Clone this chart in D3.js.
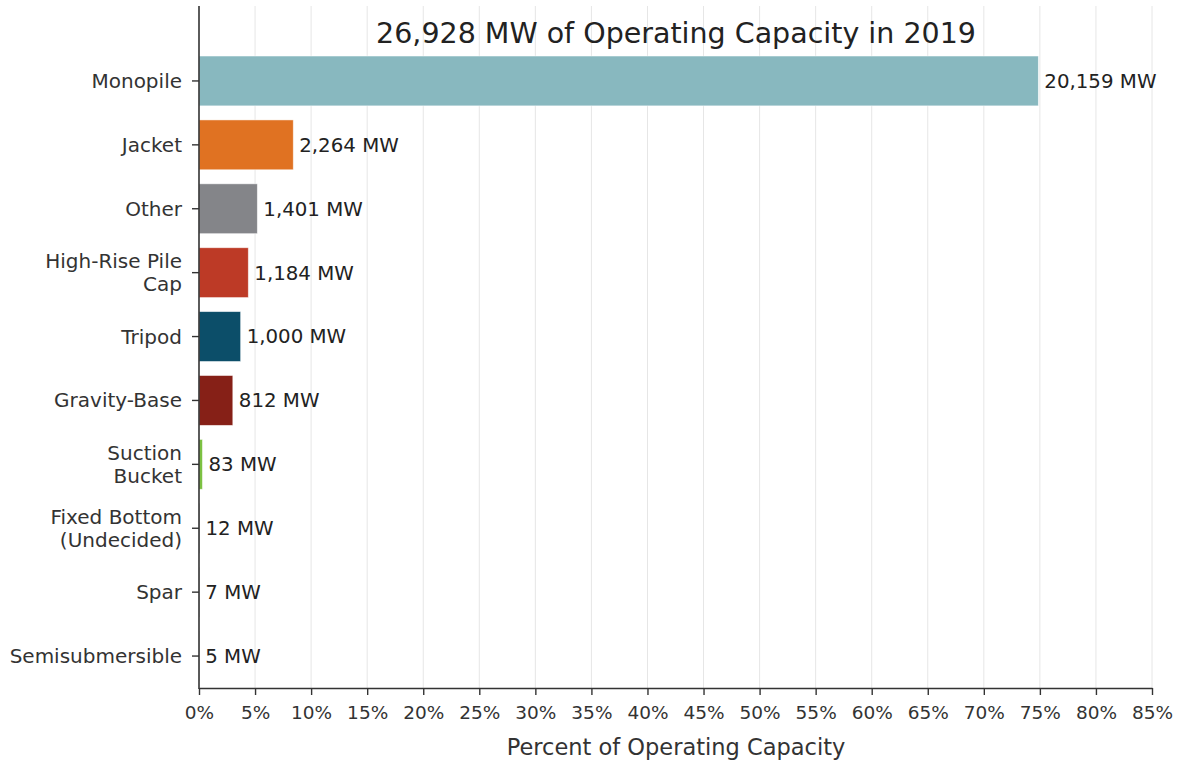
<!DOCTYPE html>
<html><head><meta charset="utf-8">
<script src="https://cdn.jsdelivr.net/npm/d3@7"></script>
<style>body{margin:0;background:#fff;} text{font-family:"DejaVu Sans",sans-serif;}</style>
</head><body>
<svg id="c" width="1178" height="764"></svg>
<script>
const categories = ["Monopile","Jacket","Other","High-Rise Pile\nCap","Tripod","Gravity-Base","Suction\nBucket","Fixed Bottom\n(Undecided)","Spar","Semisubmersible"];
const capacityMW = [20159,2264,1401,1184,1000,812,83,12,7,5];
const barColors = ["#88b8bf","#e07222","#848589","#bd3a26","#0c4e69","#862017","#7cc142","#555555","#555555","#555555"];
const totalMW = 26928;
const xTicks = [0,5,10,15,20,25,30,35,40,45,50,55,60,65,70,75,80,85];
const titleText = "26,928 MW of Operating Capacity in 2019";
const xLabel = "Percent of Operating Capacity";

const svg = d3.select("#c");
const L = 199, R = 1152, T = 6, B = 688;
const x = d3.scaleLinear().domain([0,85]).range([L,R]);
const y = d3.scaleBand().domain(categories).range([49,688]).paddingInner(0.22).paddingOuter(0.11);

// grid
svg.append("g").selectAll("line").data(xTicks.slice(1)).join("line")
  .attr("x1",d=>x(d)).attr("x2",d=>x(d)).attr("y1",T).attr("y2",B)
  .attr("stroke","#e6e6e6").attr("stroke-width",1);

// bars
const data = categories.map((c,i)=>({c, v:capacityMW[i], p:capacityMW[i]/totalMW*100, col:barColors[i]}));
svg.append("g").selectAll("rect").data(data).join("rect")
  .attr("x",x(0)).attr("y",d=>y(d.c)).attr("width",d=>x(d.p)-x(0)).attr("height",y.bandwidth())
  .attr("fill",d=>d.col).attr("stroke","#fff").attr("stroke-opacity",0.6).attr("stroke-width",0.8);

// value labels
svg.append("g").selectAll("text").data(data).join("text")
  .attr("x",d=>x(d.p)+6).attr("y",d=>y(d.c)+y.bandwidth()/2).attr("dy","0.35em")
  .attr("font-size",19.8).attr("fill","#222").text(d=>d3.format(",")(d.v)+" MW");

// x axis
const xa = svg.append("g").attr("transform",`translate(0,${B})`)
  .call(d3.axisBottom(x).tickValues(xTicks).tickFormat(d=>d+"%").tickSize(7).tickSizeOuter(0).tickPadding(11));
xa.select(".domain").attr("stroke","#333").attr("stroke-width",1.6);
xa.selectAll(".tick line").attr("stroke","#333").attr("stroke-width",1.4);
xa.selectAll(".tick text").attr("font-size",18.5).attr("fill","#333").attr("font-family","DejaVu Sans");

// y axis
const ya = svg.append("g").attr("transform",`translate(${L},0)`)
  .call(d3.axisLeft(y).tickSize(7).tickSizeOuter(0).tickFormat(""));
ya.select(".domain").remove();
ya.selectAll(".tick line").attr("stroke","#333").attr("stroke-width",1.4);
svg.append("line").attr("x1",L).attr("x2",L).attr("y1",T).attr("y2",B+1).attr("stroke","#333").attr("stroke-width",1.6);

const yl = svg.append("g");
categories.forEach(c=>{
  const lines = c.split("\n");
  const cy = y(c)+y.bandwidth()/2;
  const lh = 23;
  lines.forEach((ln,j)=>{
    yl.append("text").attr("x",L-17).attr("y",cy+(j-(lines.length-1)/2)*lh).attr("dy","0.35em")
      .attr("text-anchor","end").attr("font-size",20).attr("fill","#333").text(ln);
  });
});

// title
svg.append("text").attr("x",676).attr("y",33).attr("dy","0.35em").attr("text-anchor","middle")
  .attr("font-size",28.5).attr("fill","#222").text(titleText);
// x label
svg.append("text").attr("x",676).attr("y",747).attr("dy","0.35em").attr("text-anchor","middle")
  .attr("font-size",22.5).attr("fill","#333").text(xLabel);
</script>
</body></html>
